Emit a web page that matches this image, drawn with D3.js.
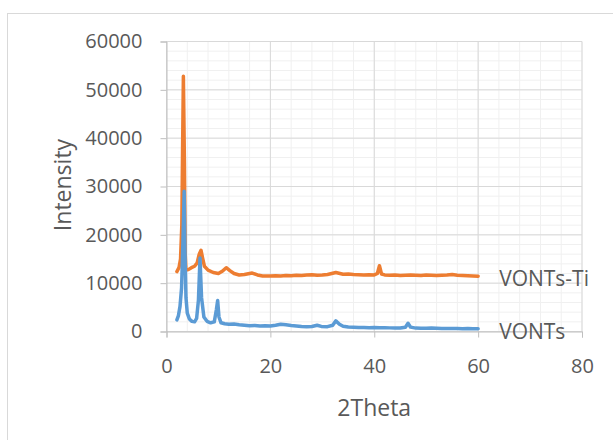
<!DOCTYPE html>
<html>
<head>
<meta charset="utf-8">
<script src="https://cdn.jsdelivr.net/npm/d3@7"></script>
<style>
  body { margin: 0; background: #fff; }
  text { font-family: "Open Sans", sans-serif; fill: #595959; }
</style>
</head>
<body>
<svg width="613" height="440"></svg>
<script>
// 2Theta / intensity readings, VONTs (blue)
var vontsX = [2.0, 2.3, 2.6, 2.9, 3.15, 3.4, 3.55, 3.75, 4.0, 4.4, 4.9, 5.4, 5.8, 6.15, 6.45, 6.75, 7.2, 7.8, 8.5, 9.2, 9.6, 9.85, 10.1, 10.5, 11.2, 12, 13, 14, 15, 16, 17, 18, 19, 20, 21, 22, 23, 24, 25, 26, 27, 28, 29, 29.8, 31, 32, 32.6, 33.3, 34, 35, 36, 37, 38, 39, 40, 41, 42, 43, 44, 45, 46, 46.5, 47, 48, 49, 50, 51, 52, 53, 54, 55, 56, 57, 58, 59, 60];
var vontsY = [2400, 3300, 5200, 9000, 18000, 29000, 17000, 7000, 3800, 2600, 2100, 2000, 2700, 6500, 15200, 7000, 3000, 2100, 1800, 2000, 4500, 6400, 3000, 1800, 1600, 1500, 1550, 1400, 1300, 1200, 1250, 1150, 1200, 1150, 1300, 1500, 1400, 1250, 1150, 1050, 1000, 1050, 1300, 1050, 1000, 1300, 2200, 1500, 1100, 950, 900, 850, 850, 800, 820, 780, 760, 750, 720, 740, 900, 1700, 900, 700, 680, 650, 700, 660, 620, 640, 600, 620, 580, 600, 580, 560];

// VONTs-Ti (orange)
var tiX = [2.0, 2.4, 2.7, 2.95, 3.1, 3.25, 3.45, 3.6, 3.75, 4.2, 4.8, 5.4, 5.9, 6.3, 6.65, 6.95, 7.3, 8, 9, 10, 10.8, 11.5, 12.2, 13, 14, 15, 16.5, 17.5, 18.5, 20, 21, 22, 23, 24, 25, 26, 27, 28, 29, 30, 31, 32.6, 34, 35, 36, 37, 38, 39, 40, 40.6, 41, 41.4, 42, 43, 44, 45, 46, 47, 48, 49, 50, 51, 52, 53, 54, 55, 56, 57, 58, 59, 60];
var tiY = [12400, 13200, 15000, 22000, 38000, 52800, 35000, 16000, 12700, 12800, 13200, 13500, 14200, 16000, 16800, 15200, 13500, 12700, 12200, 12000, 12500, 13200, 12600, 12000, 11700, 11800, 12100, 11700, 11500, 11500, 11550, 11500, 11600, 11550, 11650, 11600, 11700, 11750, 11650, 11700, 11800, 12200, 11850, 11900, 11800, 11750, 11700, 11750, 11700, 12000, 13600, 11900, 11700, 11650, 11700, 11600, 11650, 11700, 11650, 11600, 11700, 11650, 11600, 11650, 11700, 11800, 11650, 11600, 11550, 11500, 11450];

var seriesNames = ['VONTs-Ti', 'VONTs'];
var seriesColors = ['#ed7d31', '#5b9bd5'];
var xTicks = [0, 20, 40, 60, 80];
var yTicks = [0, 10000, 20000, 30000, 40000, 50000, 60000];

var svg = d3.select('svg');

// chart frame
svg.append('rect').attr('x', 7.5).attr('y', 13.5).attr('width', 640).attr('height', 460)
  .attr('fill', 'none').attr('stroke', '#d9d9d9');

var x = d3.scaleLinear().domain([0, 80]).range([166.5, 582]);
var y = d3.scaleLinear().domain([0, 60000]).range([331.5, 41.5]);

// minor grid
var g = svg.append('g');
g.selectAll('.vx').data(d3.range(0, 81, 4)).enter().append('line')
  .attr('x1', d => x(d)).attr('x2', d => x(d)).attr('y1', y(0)).attr('y2', y(60000))
  .attr('stroke', '#f0f0f0');
g.selectAll('.hy').data(d3.range(0, 60001, 2000)).enter().append('line')
  .attr('x1', x(0)).attr('x2', x(80)).attr('y1', d => y(d)).attr('y2', d => y(d))
  .attr('stroke', '#f0f0f0');
// major grid
g.selectAll('.mx').data(xTicks).enter().append('line')
  .attr('x1', d => x(d)).attr('x2', d => x(d)).attr('y1', y(0)).attr('y2', y(60000))
  .attr('stroke', '#d9d9d9');
g.selectAll('.my').data(yTicks).enter().append('line')
  .attr('x1', x(0)).attr('x2', x(80)).attr('y1', d => y(d)).attr('y2', d => y(d))
  .attr('stroke', '#d9d9d9');

// axes
var xAxis = svg.append('g').attr('transform', 'translate(0,' + y(0) + ')')
  .call(d3.axisBottom(x).tickValues(xTicks).tickSize(6).tickPadding(21));
var yAxis = svg.append('g').attr('transform', 'translate(' + x(0) + ',0)')
  .call(d3.axisLeft(y).tickValues(yTicks).tickSize(6).tickPadding(18).tickFormat(d3.format('d')));
[xAxis, yAxis].forEach(function(a) {
  a.selectAll('path, line').attr('stroke', '#bfbfbf');
  a.selectAll('text').style('font-size', '20px').style('font-family', '"Open Sans", sans-serif').attr('fill', '#595959');
});

// lines: orange underneath, blue on top
var line = d3.line().x(d => x(d[0])).y(d => y(d[1]));
var series = [d3.zip(tiX, tiY), d3.zip(vontsX, vontsY)];
series.forEach(function(s, i) {
  svg.append('path').datum(s).attr('d', line)
    .attr('fill', 'none').attr('stroke', seriesColors[i])
    .attr('stroke-width', 3.5).attr('stroke-linejoin', 'round').attr('stroke-linecap', 'round');
  var last = s[s.length - 1];
  svg.append('text').attr('x', x(last[0]) + 21).attr('y', y(last[1]) + 2)
    .attr('dominant-baseline', 'central').style('font-size', '21px')
    .text(seriesNames[i]);
});

// axis titles
svg.append('text').attr('x', x(40)).attr('y', 407).attr('text-anchor', 'middle')
  .attr('dominant-baseline', 'central').style('font-size', '23px').text('2Theta');
svg.append('text').attr('transform', 'translate(62,185) rotate(-90)').attr('text-anchor', 'middle')
  .attr('dominant-baseline', 'central').style('font-size', '23px').text('Intensity');
</script>
</body>
</html>
